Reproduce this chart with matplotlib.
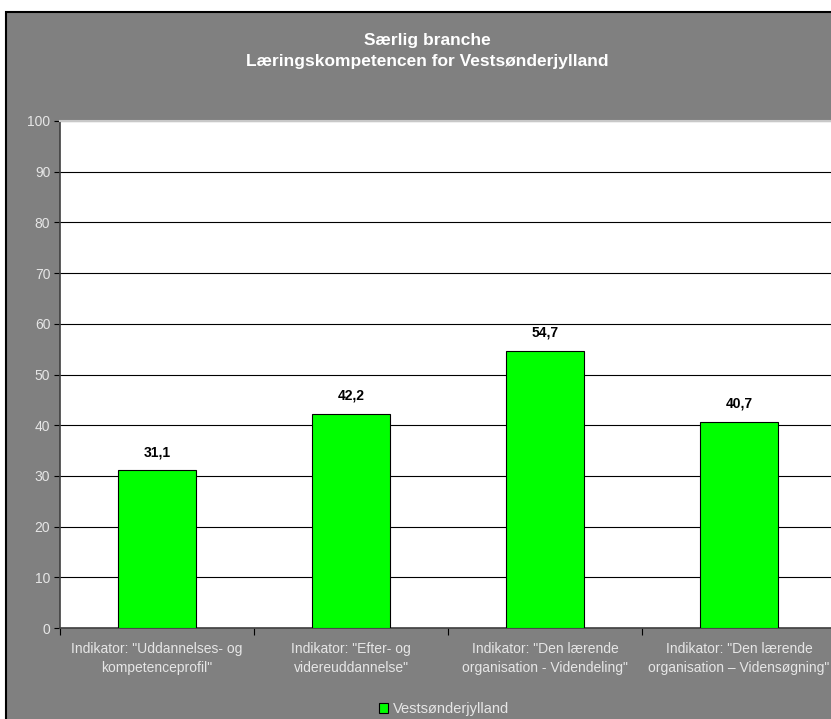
import numpy as np
import matplotlib.pyplot as plt
from matplotlib.patches import Rectangle

plt.rcParams['font.family'] = ['Liberation Sans', 'DejaVu Sans']

# Data
kategorier = ['Indikator: "Uddannelses- og\nkompetenceprofil"',
              'Indikator: "Efter- og\nvidereuddannelse"',
              'Indikator: "Den lærende\norganisation - Videndeling"',
              'Indikator: "Den lærende\norganisation – Vidensøgning"']
vaerdier = [31.1, 42.2, 54.7, 40.7]
serie = 'Vestsønderjylland'
yticks = [0, 10, 20, 30, 40, 50, 60, 70, 80, 90, 100]

tekstfarve = '#e6e6e6'

fig = plt.figure(figsize=(8.31, 7.19), dpi=100, facecolor='white')

# Grå baggrund med sort kant
fig.patches.append(Rectangle((6 / 831, -0.01), 1.0, 1 - 12 / 719 + 0.01,
                             transform=fig.transFigure, facecolor='#808080',
                             edgecolor='black', linewidth=1.5, zorder=-5))

ax = fig.add_axes([60 / 831, 1 - 628 / 719, 776 / 831, (628 - 121) / 719])
ax.set_zorder(2)
ax.set_facecolor('white')

x = np.arange(len(vaerdier))
ax.bar(x, vaerdier, width=0.4, color='#00ff00', edgecolor='black',
       linewidth=0.8, zorder=3, label=serie)

for xi, v in zip(x, vaerdier):
    ax.annotate(f'{v:.1f}'.replace('.', ','), (xi, v), xytext=(0, 8),
                textcoords='offset points', ha='center', va='bottom',
                fontsize=10, fontweight='bold', color='black')

ax.set_ylim(0, 100)
ax.set_xlim(-0.5, len(vaerdier) - 0.5)
ax.set_yticks(yticks)
ax.yaxis.grid(True, color='black', linewidth=0.8, zorder=1)

# Kategori-tekster under hver søjle, tick-streger mellem kategorierne
ax.set_xticks(np.arange(-0.5, len(vaerdier) - 0.5), minor=False)
ax.set_xticklabels([])
ax.set_xticks(x, minor=True)
ax.set_xticklabels(kategorier, minor=True, fontsize=10, color=tekstfarve,
                   linespacing=1.45)
ax.tick_params(axis='x', which='minor', length=0, pad=10)
ax.tick_params(axis='x', which='major', length=5, color='black', direction='out')
ax.tick_params(axis='y', length=4, color='black', labelsize=10,
               labelcolor=tekstfarve, pad=3)

for s in ['left', 'bottom']:
    ax.spines[s].set_color('#404040')
    ax.spines[s].set_linewidth(1.2)
ax.spines['top'].set_color('#c8c8c8')
ax.spines['top'].set_linewidth(1.5)
ax.spines['right'].set_visible(False)

fig.text(0.514, 1 - 51 / 719, 'Særlig branche\nLæringskompetencen for Vestsønderjylland',
         ha='center', va='center', fontsize=12.5, fontweight='bold',
         color='white', linespacing=1.55)

leg = fig.legend(loc='center', bbox_to_anchor=(0.534, 1 - 709 / 719), frameon=False,
                 fontsize=10.5, handlelength=0.65, handleheight=0.65,
                 handletextpad=0.3, labelcolor=tekstfarve)

fig.savefig('out.png', dpi=100, facecolor=fig.get_facecolor())
